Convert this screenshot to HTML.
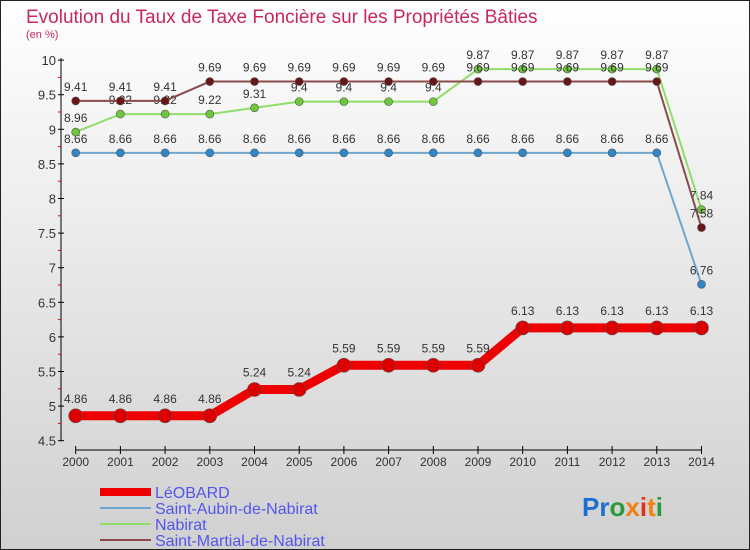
<!DOCTYPE html>
<html><head><meta charset="utf-8"><style>
body{margin:0;width:750px;height:550px;overflow:hidden;font-family:"Liberation Sans",sans-serif}
svg{display:block}
</style></head><body>
<svg width="750" height="550" viewBox="0 0 750 550">
<defs><linearGradient id="bg" x1="0" y1="0" x2="0" y2="1"><stop offset="0" stop-color="#ffffff"/><stop offset="1" stop-color="#d0d0d0"/></linearGradient></defs>
<rect x="0.5" y="0.5" width="749" height="549" fill="url(#bg)" stroke="#222"/>
<text x="26" y="23" font-size="19" fill="#c8285a">Evolution du Taux de Taxe Foncière sur les Propriétés Bâties</text>
<text x="26" y="38" font-size="11" fill="#c8285a">(en %)</text>
<g id="axes"></g>
<g id="series"></g>
<g id="legend"></g>
<g font-size="26" font-weight="bold">
<text x="582" y="516"><tspan fill="#1a6fd0">Pr</tspan><tspan fill="#2a9a3a">o</tspan><tspan fill="#f08010">x</tspan><tspan fill="#e03020">i</tspan><tspan fill="#f08010">t</tspan><tspan fill="#2a9a3a">i</tspan></text>
</g>
</svg>
<script>
const years=["2000","2001","2002","2003","2004","2005","2006","2007","2008","2009","2010","2011","2012","2013","2014"];
const leobard=[4.86,4.86,4.86,4.86,5.24,5.24,5.59,5.59,5.59,5.59,6.13,6.13,6.13,6.13,6.13];
const saintAubin=[8.66,8.66,8.66,8.66,8.66,8.66,8.66,8.66,8.66,8.66,8.66,8.66,8.66,8.66,6.76];
const nabirat=[8.96,9.22,9.22,9.22,9.31,9.4,9.4,9.4,9.4,9.87,9.87,9.87,9.87,9.87,7.84];
const saintMartial=[9.41,9.41,9.41,9.69,9.69,9.69,9.69,9.69,9.69,9.69,9.69,9.69,9.69,9.69,7.58];
const yTicks=[4.5,5,5.5,6,6.5,7,7.5,8,8.5,9,9.5,10];
const seriesNames=["LéOBARD","Saint-Aubin-de-Nabirat","Nabirat","Saint-Martial-de-Nabirat"];
const NS="http://www.w3.org/2000/svg";
const x=i=>75.7+i*44.7;
const y=v=>440.7-(v-4.5)*69.2;
function mk(tag,attrs,parent){const e=document.createElementNS(NS,tag);for(const k in attrs)e.setAttribute(k,attrs[k]);parent.appendChild(e);return e;}
const axes=document.getElementById('axes');
let e=mk('line',{x1:61,y1:58,x2:61,y2:441,stroke:'#000'},axes);


yTicks.forEach(t=>{
  mk('line',{x1:58,y1:y(t),x2:64,y2:y(t),stroke:'#000'},axes);
  const tx=mk('text',{x:56,y:y(t)+5,'text-anchor':'end','font-size':13,fill:'#333'},axes);
  tx.textContent=String(t);
  
  
  if(t<10) mk('line',{x1:58,y1:y(t+0.25),x2:61,y2:y(t+0.25),stroke:'#e00'},axes);
});
e=mk('line',{x1:x(0),y1:450,x2:x(14),y2:450,stroke:'#000'},axes);


years.forEach((yr,i)=>{
  mk('line',{x1:x(i),y1:446,x2:x(i),y2:454,stroke:'#000'},axes);
  const tx=mk('text',{x:x(i),y:466,'text-anchor':'middle','font-size':12,fill:'#333'},axes);
  tx.textContent=yr;
  
  
});
const ser=document.getElementById('series');
const defs=[
 {d:saintAubin,c:'#6ea6d0',f:'#2f86c8',w:2,r:4,name:'series-saint-aubin'},
 {d:nabirat,c:'#90dd6a',f:'#6cc83a',w:2,r:4,name:'series-nabirat'},
 {d:saintMartial,c:'#8a4a4a',f:'#6a1616',w:2,r:4,name:'series-saint-martial'},
 {d:leobard,c:'#ee0000',f:'#dd0000',w:9,r:7,name:'series-leobard'}];
defs.forEach(s=>{
  const g=mk('g',{},ser);
  
  
  mk('polyline',{points:s.d.map((v,i)=>x(i)+','+y(v)).join(' '),fill:'none',stroke:s.c,'stroke-width':s.w},g);
  s.d.forEach((v,i)=>{
    const c=mk('circle',{cx:x(i),cy:y(v),r:s.r,fill:s.f,stroke:'#555','stroke-width':0.6},g);
    
    
    const t=mk('text',{x:x(i),y:y(v)-(s.r+6),'text-anchor':'middle','font-size':12,fill:'#333'},g);
    t.textContent=String(v);
    
    
  });
});
const leg=document.getElementById('legend');
const lc=['#ee0000','#6ea6d0','#90dd6a','#8a4a4a'],lw=[8,2,2,2];
seriesNames.forEach((n,i)=>{
  const g=mk('g',{},leg);
  
  
  const yy=492+i*16;
  mk('line',{x1:100,y1:yy,x2:151,y2:yy,stroke:lc[i],'stroke-width':lw[i]},g);
  const t=mk('text',{x:155,y:yy+6,'font-size':16,fill:'#5555ee'},g);
  t.textContent=n;
});
</script>
</body></html>
